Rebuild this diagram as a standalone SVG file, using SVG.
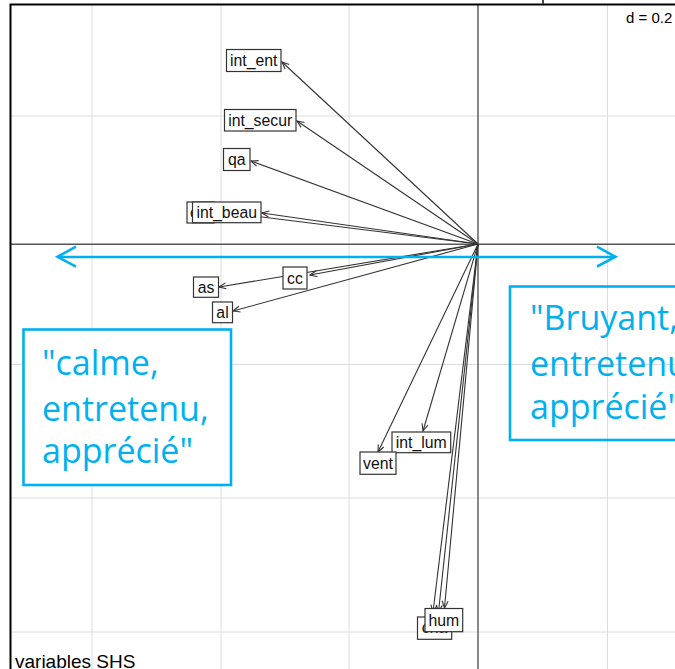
<svg xmlns="http://www.w3.org/2000/svg" width="675" height="669" viewBox="0 0 675 669">
  <defs>
    <marker id="head" viewBox="-8 -4 9 8" refX="0" refY="0" markerWidth="9" markerHeight="8" markerUnits="userSpaceOnUse" orient="auto">
      <path d="M-7,-3 L0,0 L-7,3" fill="none" stroke="#333" stroke-width="1.1"/>
    </marker>
  </defs>
  <style>
    .grid { stroke: #dcdcdc; stroke-width: 1; }
    .axis { stroke: #555; stroke-width: 1.4; }
    .vec { stroke: #333; stroke-width: 1.1; fill: none; marker-end: url(#head); }
    .lbl rect { fill: #fff; stroke: #333; stroke-width: 1.2; }
    .lbl text { font-family: "Liberation Sans", Arial, sans-serif; font-size: 15.8px; fill: #111; text-anchor: middle; }
    .blue { stroke: #00b0f0; stroke-width: 2.6; fill: none; }
    .btext { font-family: "Open Sans", "Noto Sans", sans-serif; font-size: 34px; fill: #00b0f0; }
    .small { font-family: "Liberation Sans", Arial, sans-serif; fill: #000; }
  </style>

  <rect width="675" height="669" fill="#fff"/>

  <!-- grid -->
  <g id="grid">
    <line class="grid" x1="92" y1="4" x2="92" y2="669"/>
    <line class="grid" x1="221" y1="4" x2="221" y2="669"/>
    <line class="grid" x1="349" y1="4" x2="349" y2="669"/>
    <line class="grid" x1="607.5" y1="4" x2="607.5" y2="669"/>
    <line class="grid" x1="10" y1="116" x2="675" y2="116"/>
    <line class="grid" x1="10" y1="364.5" x2="675" y2="364.5"/>
    <line class="grid" x1="10" y1="498" x2="675" y2="498"/>
    <line class="grid" x1="10" y1="632" x2="675" y2="632"/>
  </g>

  <!-- axes and frame -->
  <g id="axes">
    <line class="axis" x1="10" y1="244.3" x2="675" y2="244.3"/>
    <line class="axis" x1="478" y1="4" x2="478" y2="669"/>
    <path d="M10.5,669 V4.5 H675" fill="none" stroke="#000" stroke-width="2"/>
    <rect x="542" y="0" width="2" height="4" fill="#444"/>
  </g>

  <!-- connectors -->
  <g id="connectors">
    <line class="vec" x1="478" y1="244" x2="282" y2="62"/>
    <line class="vec" x1="478" y1="244" x2="297" y2="121"/>
    <line class="vec" x1="478" y1="244" x2="251" y2="161"/>
    <line class="vec" x1="478" y1="244" x2="214" y2="211"/>
    <line class="vec" x1="478" y1="244" x2="262" y2="213"/>
    <line class="vec" x1="478" y1="244" x2="219" y2="287"/>
    <line class="vec" x1="478" y1="244" x2="310" y2="275"/>
    <line class="vec" x1="478" y1="244" x2="233" y2="311"/>
    <line class="vec" x1="478" y1="244" x2="378" y2="452"/>
    <line class="vec" x1="478" y1="244" x2="423" y2="431"/>
    <line class="vec" x1="478" y1="244" x2="433" y2="612"/>
    <line class="vec" x1="478" y1="244" x2="438.5" y2="612"/>
    <line class="vec" x1="478" y1="244" x2="444.5" y2="608"/>
  </g>

  <!-- variable labels -->
  <g id="n-int_ent" class="lbl"><rect x="226.5" y="49.5" width="54.5" height="22"/><text x="253.7" y="66">int_ent</text></g>
  <g id="n-int_secur" class="lbl"><rect x="224.5" y="109.5" width="71.5" height="21.5"/><text x="260.2" y="125.8">int_secur</text></g>
  <g id="n-qa" class="lbl"><rect x="223.5" y="148.5" width="26.5" height="22"/><text x="236.7" y="165">qa</text></g>
  <g id="n-c" class="lbl"><rect x="187" y="202" width="27" height="21"/><text x="194" y="218">c</text></g>
  <g id="n-int_beau" class="lbl"><rect x="192.5" y="202" width="68.5" height="20.7"/><text x="226.7" y="218">int_beau</text></g>
  <g id="n-as" class="lbl"><rect x="193.5" y="277" width="25" height="20.3"/><text x="206" y="292.5">as</text></g>
  <g id="n-cc" class="lbl"><rect x="283" y="267" width="24" height="22"/><text x="295" y="283.5">cc</text></g>
  <g id="n-al" class="lbl"><rect x="212.5" y="302" width="20" height="20.7"/><text x="222.5" y="317.8">al</text></g>
  <g id="n-int_lum" class="lbl"><rect x="392" y="432" width="58.7" height="20.7"/><text x="421.3" y="447.6">int_lum</text></g>
  <g id="n-vent" class="lbl"><rect x="360" y="452" width="36" height="22.3"/><text x="378" y="468.6">vent</text></g>
  <g id="n-cha" class="lbl"><rect x="417.5" y="617" width="34.2" height="22.3"/><text x="434.6" y="633">cha</text></g>
  <g id="n-hum" class="lbl"><rect x="425" y="608.5" width="37.7" height="23.2"/><text x="443.8" y="625.5">hum</text></g>

  <!-- annotation: left/right reading of axis 1 -->
  <g id="axis-arrow">
    <line class="blue" x1="58" y1="257" x2="614" y2="257"/>
    <path class="blue" d="M76,246.7 L57.5,256.8 L76,266.7"/>
    <path class="blue" d="M597,246.7 L615.5,256.8 L597,266.5"/>
  </g>
  <g id="box-left">
    <rect x="23.5" y="329.5" width="207.5" height="155.5" fill="#fff" stroke="#00b0f0" stroke-width="2.6"/>
    <text class="btext" x="42" y="375">"calme,</text>
    <text class="btext" x="42" y="421">entretenu,</text>
    <text class="btext" x="42" y="463">apprécié"</text>
  </g>
  <g id="box-right">
    <rect x="510" y="286.5" width="175" height="153.5" class="blue"/>
    <text class="btext" x="530" y="330">"Bruyant,</text>
    <text class="btext" x="530" y="376">entretenu</text>
    <text class="btext" x="530" y="419">apprécié"</text>
  </g>

  <!-- scale and title -->
  <text class="small" x="626" y="23" font-size="15">d = 0.2</text>
  <text class="small" x="15" y="668" font-size="19">variables SHS</text>
</svg>
